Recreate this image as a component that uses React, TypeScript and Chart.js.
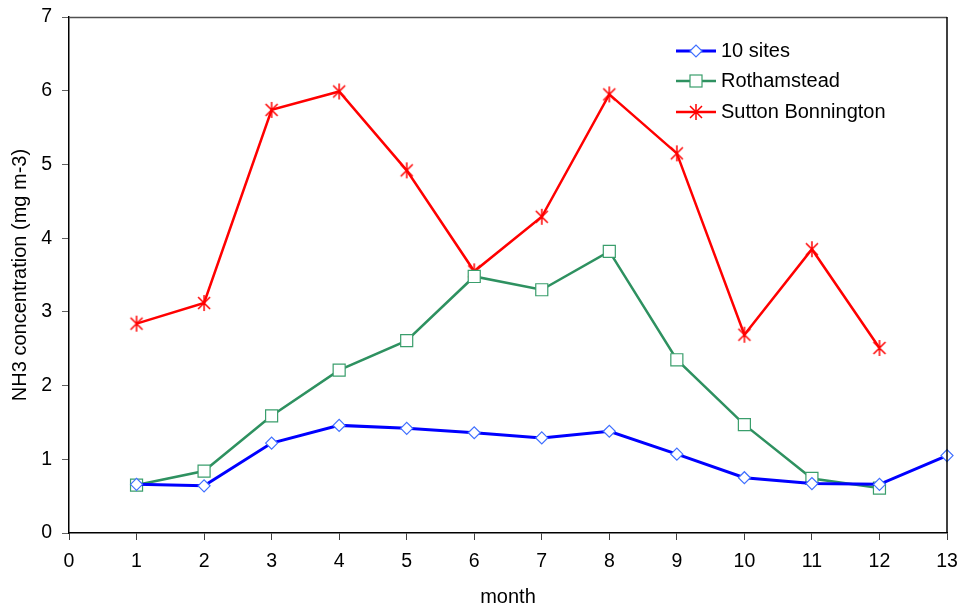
import React, { useEffect, useRef } from "react";
import { Chart, registerables } from "chart.js";

Chart.register(...registerables);

const months = [1, 2, 3, 4, 5, 6, 7, 8, 9, 10, 11, 12, 13];
const sites10 = [0.66, 0.64, 1.22, 1.46, 1.42, 1.36, 1.29, 1.38, 1.07, 0.75, 0.67, 0.66, 1.05];
const rothamstead = [0.65, 0.84, 1.59, 2.21, 2.61, 3.48, 3.3, 3.82, 2.35, 1.47, 0.74, 0.61];
const sutton = [2.84, 3.12, 5.74, 5.99, 4.92, 3.55, 4.29, 5.95, 5.15, 2.69, 3.85, 2.51];
const seriesNames = ["10 sites", "Rothamstead", "Sutton Bonnington"];
const xMin = 0;
const xMax = 13;
const yMin = 0;
const yMax = 7;
const xTitle = "month";
const yTitle = "NH3 concentration (mg m-3)";

const FONT = "'Liberation Sans', Arial, sans-serif";
const BLUE_LINE = "#0000FF";
const BLUE_MARK = "#3F6FFF";
const GREEN_LINE = "#2E9160";
const GREEN_MARK = "#3A9E6C";
const RED = "#FF0000";

function makeStar(color: string, size: number): HTMLCanvasElement {
  const c = document.createElement("canvas");
  c.width = size;
  c.height = size;
  const ctx = c.getContext("2d")!;
  const m = size / 2;
  const r = size / 2 - 1;
  ctx.strokeStyle = color;
  ctx.lineWidth = 1.5;
  ctx.beginPath();
  ctx.moveTo(m, m - r);
  ctx.lineTo(m, m + r);
  const d = r * 0.75;
  ctx.moveTo(m - d, m - d);
  ctx.lineTo(m + d, m + d);
  ctx.moveTo(m + d, m - d);
  ctx.lineTo(m - d, m + d);
  ctx.stroke();
  return c;
}

function toPoints(vals: number[]) {
  return vals.map((v, i) => ({ x: months[i], y: v }));
}

export default function App() {
  const ref = useRef<HTMLCanvasElement | null>(null);

  useEffect(() => {
    const canvas = ref.current;
    if (!canvas) return;
    const star = makeStar(RED, 18);

    const legendPlugin = {
      id: "customLegend",
      afterDraw(chart: any) {
        const ctx = chart.ctx as CanvasRenderingContext2D;
        ctx.save();
        const a = chart.chartArea;
        ctx.lineWidth = 1.5;
        ctx.strokeStyle = "#505050";
        ctx.beginPath();
        ctx.moveTo(a.left, a.top + 0.5);
        ctx.lineTo(a.right, a.top + 0.5);
        ctx.stroke();
        ctx.strokeStyle = "#000";
        ctx.lineWidth = 1.5;
        ctx.beginPath();
        ctx.moveTo(a.right, a.top);
        ctx.lineTo(a.right, a.bottom);
        ctx.stroke();

        const rows = [51, 81, 112];
        const x0 = 676;
        const x1 = 716;
        const mx = 696;
        rows.forEach((y, i) => {
          ctx.lineWidth = i === 0 ? 3 : 2.5;
          ctx.strokeStyle = i === 0 ? BLUE_LINE : i === 1 ? GREEN_LINE : RED;
          ctx.beginPath();
          ctx.moveTo(x0, y);
          ctx.lineTo(x1, y);
          ctx.stroke();
          if (i === 0) {
            ctx.fillStyle = "#fff";
            ctx.strokeStyle = BLUE_MARK;
            ctx.lineWidth = 1.2;
            ctx.beginPath();
            ctx.moveTo(mx - 6, y);
            ctx.lineTo(mx, y - 6);
            ctx.lineTo(mx + 6, y);
            ctx.lineTo(mx, y + 6);
            ctx.closePath();
            ctx.fill();
            ctx.stroke();
          } else if (i === 1) {
            ctx.fillStyle = "#fff";
            ctx.strokeStyle = GREEN_MARK;
            ctx.lineWidth = 1.2;
            ctx.fillRect(mx - 6, y - 6, 12, 12);
            ctx.strokeRect(mx - 6, y - 6, 12, 12);
          } else {
            ctx.drawImage(star, mx - 9, y - 9);
          }
          ctx.fillStyle = "#000";
          ctx.font = `20px ${FONT}`;
          ctx.textBaseline = "middle";
          ctx.textAlign = "left";
          ctx.fillText(seriesNames[i], 721, y);
        });
        ctx.restore();
      },
    };

    const chart = new Chart(canvas, {
      type: "line",
      data: {
        datasets: [
          {
            label: seriesNames[0],
            data: toPoints(sites10),
            borderColor: BLUE_LINE,
            borderWidth: 3,
            pointStyle: "rectRot",
            pointRadius: 6,
            pointBorderColor: BLUE_MARK,
            pointBackgroundColor: "#fff",
            pointBorderWidth: 1.2,
            tension: 0,
            clip: false as any,
          },
          {
            label: seriesNames[1],
            data: toPoints(rothamstead),
            borderColor: GREEN_LINE,
            borderWidth: 2.5,
            pointStyle: "rect",
            pointRadius: 8.5,
            pointBorderColor: GREEN_MARK,
            pointBackgroundColor: "#fff",
            pointBorderWidth: 1.2,
            tension: 0,
            clip: false as any,
          },
          {
            label: seriesNames[2],
            data: toPoints(sutton),
            borderColor: RED,
            borderWidth: 2.5,
            pointStyle: star as any,
            pointRadius: 9,
            tension: 0,
            clip: false as any,
          },
        ],
      },
      options: {
        responsive: false,
        animation: false,
        layout: { padding: { top: 17, right: 16, left: 0, bottom: 0 } },
        plugins: {
          legend: { display: false },
          tooltip: { enabled: false },
        },
        scales: {
          x: {
            type: "linear",
            min: xMin,
            max: xMax,
            ticks: {
              stepSize: 1,
              color: "#000",
              padding: 10,
              font: { family: FONT, size: 19.5 },
            },
            grid: {
              drawOnChartArea: false,
              drawTicks: true,
              tickLength: 7,
              color: "#404040",
            },
            border: { color: "#000", width: 1.5 },
            title: {
              display: true,
              text: xTitle,
              color: "#000",
              font: { family: FONT, size: 20 },
              padding: { top: 0, bottom: 1 },
            },
            afterFit(scale: any) {
              scale.height = 77;
              scale.paddingLeft = 0;
              scale.paddingRight = 0;
            },
          },
          y: {
            type: "linear",
            min: yMin,
            max: yMax,
            ticks: {
              stepSize: 1,
              color: "#000",
              padding: 10,
              font: { family: FONT, size: 19.5 },
            },
            grid: {
              drawOnChartArea: false,
              drawTicks: true,
              tickLength: 7,
              color: "#606060",
            },
            border: { color: "#000", width: 1.5 },
            title: {
              display: true,
              text: yTitle,
              color: "#000",
              font: { family: FONT, size: 20 },
              padding: { top: 8, bottom: 0 },
            },
            afterFit(scale: any) {
              scale.width = 69;
              scale.paddingTop = 0;
              scale.paddingBottom = 0;
            },
          },
        },
      },
      plugins: [legendPlugin],
    } as any);

    return () => chart.destroy();
  }, []);

  return (
    <div style={{ position: "absolute", left: 0, top: 0, width: 963, height: 610, background: "#fff" }}>
      <canvas ref={ref} width={963} height={610} style={{ width: 963, height: 610, display: "block" }} />
    </div>
  );
}
